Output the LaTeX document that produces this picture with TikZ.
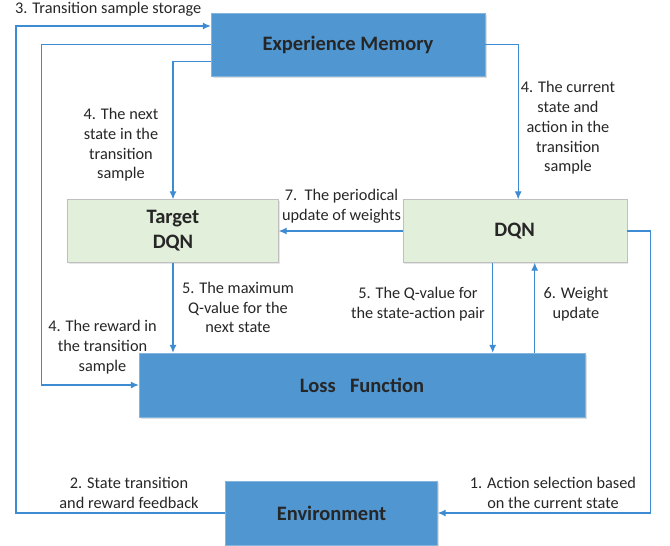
\documentclass[tikz,border=0pt]{standalone}
\usepackage{fontspec}
\setmainfont{Carlito}
\usetikzlibrary{arrows.meta,positioning,calc,shadows}

\definecolor{boxblue}{HTML}{5096D1}
\definecolor{boxgreen}{HTML}{E2EFDA}
\definecolor{linkblue}{HTML}{3D8BD3}
\definecolor{txtgray}{HTML}{262626}

\begin{document}
\begin{tikzpicture}[
    x=1pt, y=-1pt,
    bluebox/.style={rectangle, draw=boxblue!70!white, fill=boxblue, text=txtgray, font=\fontsize{20.5}{25}\selectfont\bfseries, align=center,
        drop shadow={shadow xshift=1.5pt, shadow yshift=-1.5pt, opacity=0.25}},
    greenbox/.style={rectangle, draw=black!25, fill=boxgreen, text=txtgray, font=\fontsize{20.5}{25}\selectfont\bfseries, align=center,
        drop shadow={shadow xshift=1.5pt, shadow yshift=-1.5pt, opacity=0.2}},
    note/.style={text=txtgray, font=\fontsize{16.3}{19.7}\selectfont, align=center, inner sep=0pt},
    arrow/.style={-{Latex[length=8pt,width=7pt]}, draw=linkblue, line width=1.1pt}
]
\useasboundingbox (0,0) rectangle (670,546);

% 模块
\node[bluebox, minimum width=274pt, minimum height=63pt] (memory) at (348,44.5) {Experience Memory};
\node[greenbox, minimum width=211pt, minimum height=63pt] (target) at (173,231) {Target\\DQN};
\node[greenbox, minimum width=224pt, minimum height=63pt] (dqn) at (514.7,231) {DQN};
\node[bluebox, minimum width=446pt, minimum height=64pt] (loss) at (362,385) {Loss\hspace{0.7em}Function};
\node[bluebox, minimum width=212pt, minimum height=64pt] (env) at (331.5,513) {Environment};

% 左侧回路
\coordinate (left_rail) at (16,26);

% 连接线
\draw[arrow] (env.west) -| (left_rail) -- ([yshift=18.5pt]memory.west);
\draw[arrow] (memory.west) -- ++(-169,0) |- (loss.west);
\draw[arrow] ([yshift=-17pt]memory.west) -| (target.north);
\draw[arrow] (memory.east) -| ([xshift=3.5pt]dqn.north);
\draw[arrow] (dqn.west) -- (target.east);
\draw[arrow] (target.south) -- (target.south |- loss.north);
\draw[arrow] ([xshift=-22pt]dqn.south) -- ([xshift=-22pt]dqn.south |- loss.north);
\draw[arrow] ([xshift=20pt]dqn.south |- loss.north) -- ([xshift=20pt]dqn.south);
\draw[arrow] (dqn.east) -- ++(24,0) |- (env.east);

% 标注
\node[note, anchor=west] (store_lbl) at (15,9) {3. Transition sample storage};
\node[note] (next_lbl) at (121,145) {4. The next\\state in the\\transition\\sample};
\node[note] (cur_lbl) at (568,128) {4. The current\\state and\\action in the\\transition\\sample};
\node[note] (period_lbl) at (341.5,206.5) {7.\ \ The periodical\\update of weights};
\node[note] (max_lbl) at (238,307.5) {5. The maximum\\Q-value for the\\next state};
\node[note] (qsa_lbl) at (418,304) {5. The Q-value for\\the state-action pair};
\node[note] (wu_lbl) at (576,304) {6. Weight\\update};
\node[note] (reward_lbl) at (102.5,347) {4. The reward in\\the transition\\sample};
\node[note] (act_lbl) at (553,493) {1. Action selection based\\on the current state};
\node[note] (st_lbl) at (129,493) {2. State transition\\and reward feedback};

\end{tikzpicture}
\end{document}
